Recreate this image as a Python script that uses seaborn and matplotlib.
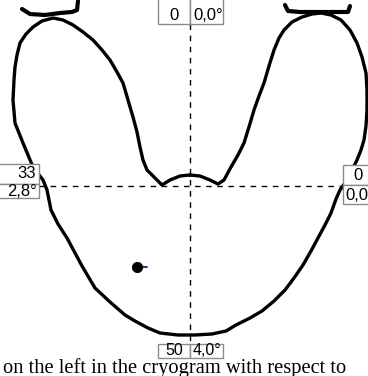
import matplotlib
matplotlib.use("Agg")
import matplotlib.pyplot as plt
from matplotlib.patches import Rectangle
import seaborn as sns

# Cryogram outline (closed contour, image coordinates: x to the right, y downward)
outline_x = [190, 200, 210, 218, 224, 231, 238, 244, 249, 254, 259, 264, 269, 274, 279, 284,
             292, 302, 312, 321, 331, 341, 350, 357, 362, 366, 367, 367, 366, 364, 361, 357,
             352, 347, 340, 336, 331, 325, 318, 311, 303, 294, 285, 274, 262, 250, 236, 226,
             212, 195, 178, 160, 148, 135, 125, 110, 95, 82, 67, 58, 51, 47, 43, 33, 23, 15,
             13, 14, 15, 17, 20, 26, 33, 42, 53, 63, 73, 83, 93, 102, 110, 117, 123, 128, 133,
             137, 140, 143, 147, 155, 162, 170, 180, 190]
outline_y = [175, 176, 180, 184, 180, 167, 155, 143, 127, 110, 96, 83, 66, 50, 38, 30,
             22, 17, 14, 13, 15, 20, 30, 43, 57, 73, 90, 110, 126, 140, 150, 160,
             170, 180, 190, 199, 213, 225, 238, 251, 265, 278, 290, 301, 311, 318, 325, 331,
             334, 335, 335, 333, 328, 321, 315, 302, 288, 266, 238, 224, 210, 190, 180, 167, 143, 123,
             100, 80, 67, 55, 43, 34, 27, 21, 18, 20, 25, 32, 40, 50, 60, 72, 83, 100, 117,
             132, 147, 160, 170, 178, 185, 180, 176, 175]

# Arc markers above the two lobes
cap_left_x = [22, 30, 45, 60, 72, 77, 78]
cap_left_y = [9, 14, 15, 13, 12, 10, 1]
cap_right_x = [285, 288, 300, 320, 340, 348, 350]
cap_right_y = [5, 11, 12, 12, 12, 12, 6]

# Current position point and its direction tick
point_x = [137]
point_y = [267]
tick_x = [141, 147]
tick_y = [267, 267]

# Crosshair centre
center_x = 190
center_y = 186

# Scale labels (value, angle)
top_labels = ["0", "0,0°"]
left_labels = ["33", "2,8°"]
right_labels = ["0", "0,0"]
bottom_labels = ["50", "4,0°"]

caption = "on the left in the cryogram with respect to"

sns.set_theme(style="white")
plt.rcParams["font.family"] = ["Liberation Sans Narrow", "Liberation Sans", "DejaVu Sans"]

fig = plt.figure(figsize=(3.68, 3.76), dpi=100)
ax = fig.add_axes([0, 0, 1, 1])
ax.set_xlim(0, 368)
ax.set_ylim(376, 0)
ax.axis("off")

# Dashed crosshair
ax.plot([center_x, center_x], [24, 344], color="black", lw=1.0, ls=(0, (4, 4)), zorder=1)
ax.plot([39, 343], [center_y, center_y], color="black", lw=1.0, ls=(0, (4, 4)), zorder=1)

# Outline and arcs
sns.lineplot(x=outline_x, y=outline_y, sort=False, estimator=None, color="black",
             linewidth=2.4, ax=ax, zorder=2)
sns.lineplot(x=cap_left_x, y=cap_left_y, sort=False, estimator=None, color="black",
             linewidth=3.0, ax=ax, zorder=2)
sns.lineplot(x=cap_right_x, y=cap_right_y, sort=False, estimator=None, color="black",
             linewidth=3.0, ax=ax, zorder=2)

# Point with its tick
sns.lineplot(x=tick_x, y=tick_y, sort=False, estimator=None, color="#1a1a80",
             linewidth=1.3, ax=ax, zorder=3)
sns.scatterplot(x=point_x, y=point_y, color="black", s=55, edgecolor="black", ax=ax, zorder=4)

box_kw = dict(facecolor="white", edgecolor="#8a8a8a", linewidth=1.0, zorder=5)
font_kw = dict(fontsize=12, color="black", zorder=6)

# Top label pair
ax.add_patch(Rectangle((158, -5), 32, 29, **box_kw))
ax.add_patch(Rectangle((190, -5), 33, 29, **box_kw))
ax.text(174, 15, top_labels[0], ha="center", va="center", **font_kw)
ax.text(193, 15, top_labels[1], ha="left", va="center", **font_kw)

# Left label pair
ax.add_patch(Rectangle((-5, 164), 44, 20, **box_kw))
ax.add_patch(Rectangle((-5, 184), 44, 14, **box_kw))
ax.text(36, 174, left_labels[0], ha="right", va="center", **font_kw)
ax.text(37, 192, left_labels[1], ha="right", va="center", **font_kw)

# Right label pair
ax.add_patch(Rectangle((343, 165), 35, 20, **box_kw))
ax.add_patch(Rectangle((343, 185), 35, 19, **box_kw))
ax.text(358, 175, right_labels[0], ha="center", va="center", **font_kw)
ax.text(345, 195, right_labels[1], ha="left", va="center", **font_kw)

# Bottom label pair
ax.add_patch(Rectangle((158, 344), 32, 14, **box_kw))
ax.add_patch(Rectangle((190, 344), 33, 14, **box_kw))
ax.text(174, 350.5, bottom_labels[0], ha="center", va="center", fontsize=11.5,
        color="black", zorder=6)
ax.text(193, 350.5, bottom_labels[1], ha="left", va="center", fontsize=11.5,
        color="black", zorder=6)

# Caption line running below the diagram
ax.text(3, 372.5, caption, ha="left", va="baseline", fontsize=14.8,
        family=["Liberation Serif", "DejaVu Serif"], color="black", zorder=7)

fig.savefig("out.png", dpi=100)
